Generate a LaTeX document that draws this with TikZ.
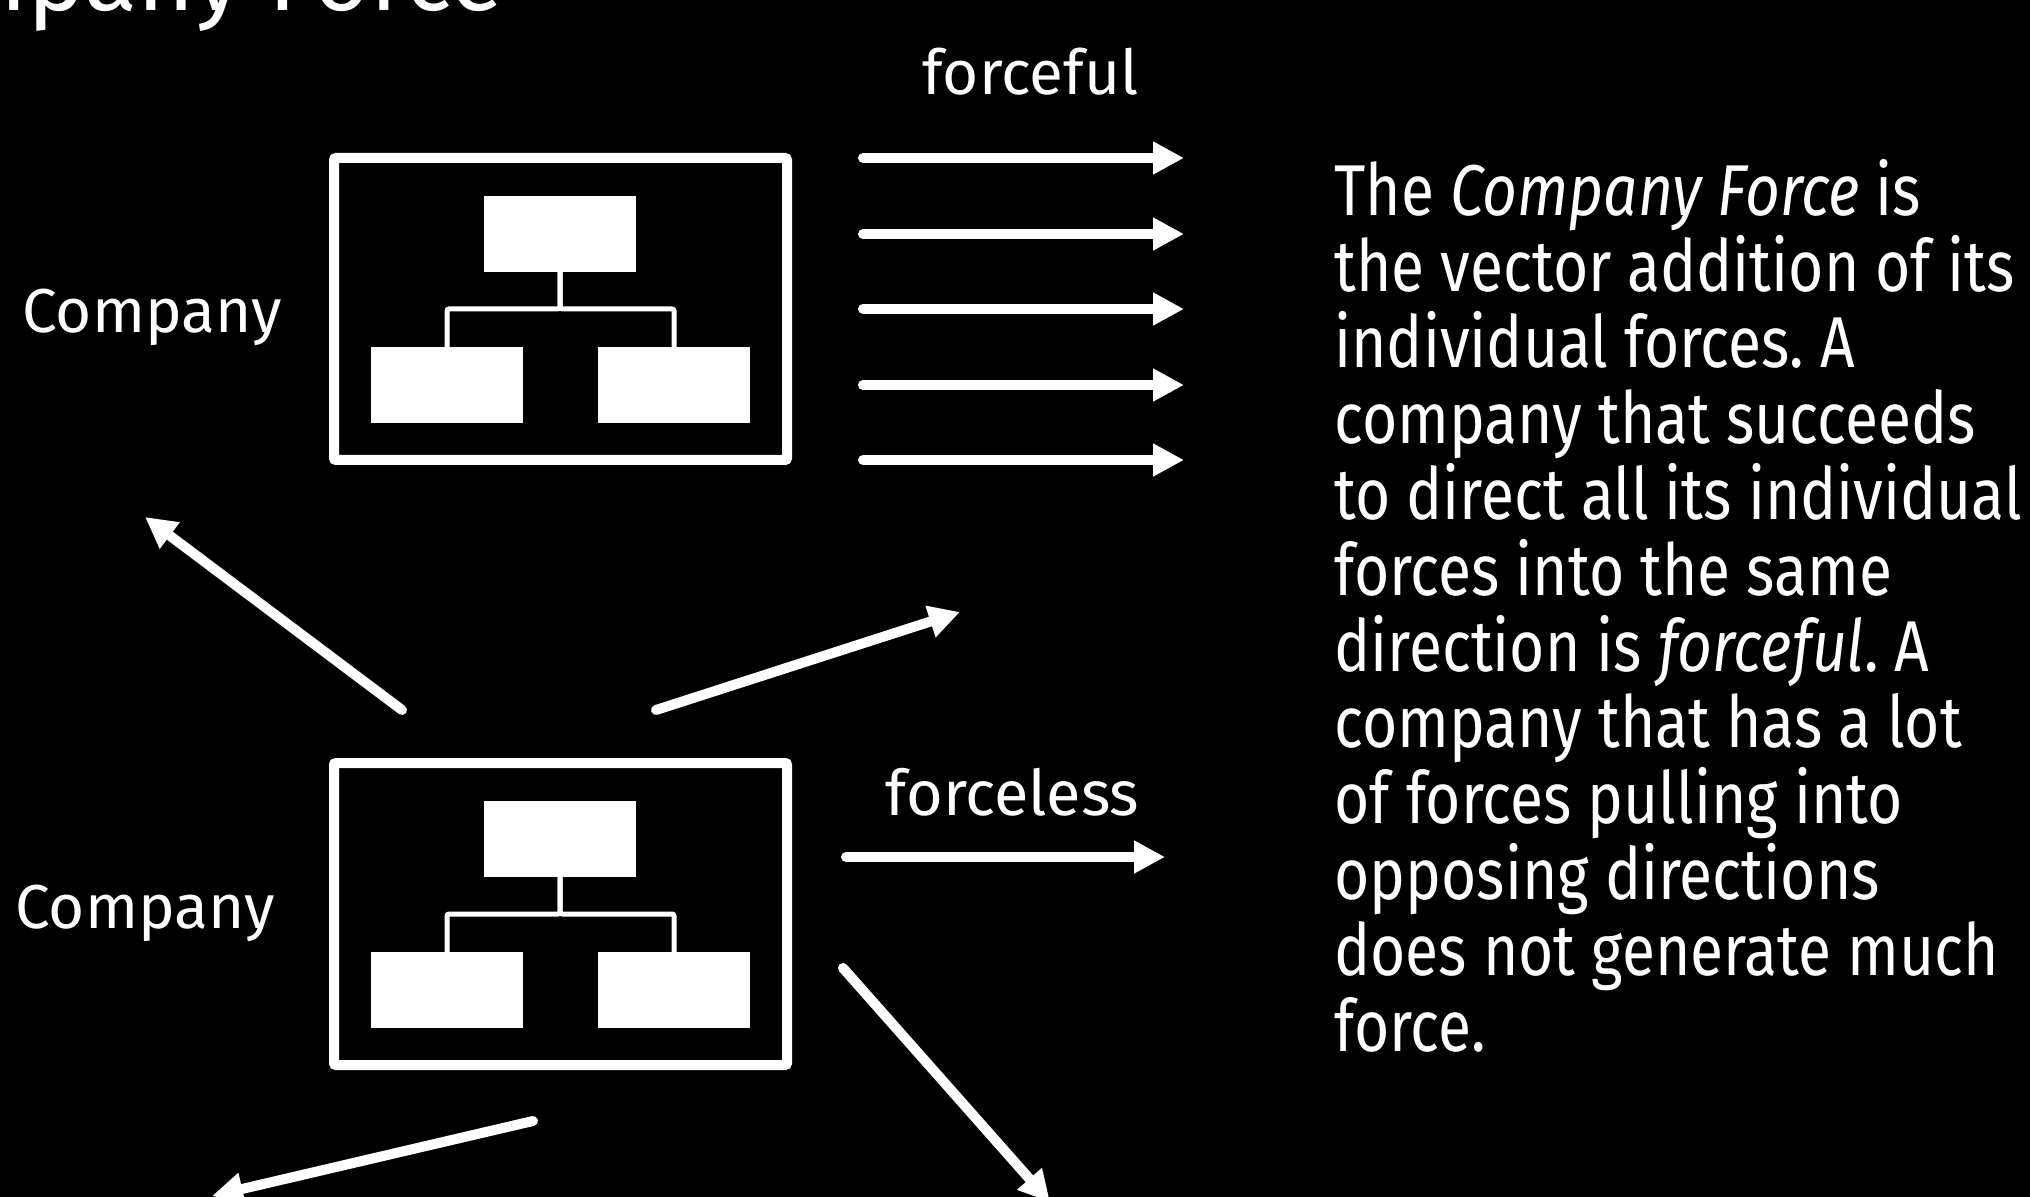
\documentclass[tikz,border=0pt]{standalone}
\usepackage{fontspec}
\setmainfont{Fira Sans}
\newfontfamily\bodyfont[FakeStretch=0.84]{Fira Sans}
\usetikzlibrary{arrows.meta}
\frenchspacing
\begin{document}
\begin{tikzpicture}[x=0.5pt,y=-0.5pt,
  frame/.style={draw=white, line width=5pt, rounded corners=1pt,
    minimum width=226.5pt, minimum height=151pt, inner sep=0pt, outer sep=0pt},
  unit/.style={fill=white, minimum width=76pt, minimum height=38pt,
    inner sep=0pt, outer sep=0pt},
  link/.style={draw=white, line width=2.5pt, rounded corners=1pt},
  force/.style={draw=white, line width=5pt, line cap=round,
    -{Triangle[length=15.5pt,width=15.5pt]}},
  label/.style={text=white, font=\fontsize{31pt}{36pt}\selectfont, inner sep=0pt}]

% canvas
\useasboundingbox (0,0) rectangle (2030,1197);
\fill[black] (0,0) rectangle (2030,1197);

% title, running off the left edge
\node[text=white, font=\fontsize{49pt}{56pt}\selectfont, inner sep=0pt,
  anchor=base east] (title) at (504,11) {Company Force};

% company with aligned forces
\node[frame] (c1) at (560.5,309) {};
\node[unit] (c1top) at (560,234) {};
\node[unit] (c1left) at (447,385) {};
\node[unit] (c1right) at (674,385) {};
\draw[link] (c1top.south) -- ++(0,37) -| (c1left.north);
\draw[link] (c1top.south) -- ++(0,37) -| (c1right.north);
\node[label, anchor=base west] (lab1) at (22,333) {Company};
\node[label, anchor=base] (lab2) at (1030.5,95) {forceful};

\foreach \y [count=\i] in {158,234,309,385,460} {
  \coordinate (fa\i) at (863,\y);
  \coordinate (fb\i) at (1184,\y);
  \draw[force] (fa\i) -- (fb\i);
}

% company with opposing forces
\node[frame] (c2) at (560.5,914) {};
\node[unit] (c2top) at (560,839) {};
\node[unit] (c2left) at (447,990) {};
\node[unit] (c2right) at (674,990) {};
\draw[link] (c2top.south) -- ++(0,37) -| (c2left.north);
\draw[link] (c2top.south) -- ++(0,37) -| (c2right.north);
\node[label, anchor=base west] (lab3) at (15,928) {Company};
\node[label, anchor=base, font=\fontsize{31.5pt}{36pt}\selectfont] (lab4)
  at (1012.5,815) {forceless};

\coordinate (da1) at (402,710);  \coordinate (db1) at (145,517);
\coordinate (da2) at (656,710);  \coordinate (db2) at (960,612);
\coordinate (da3) at (846,857);  \coordinate (db3) at (1165,857);
\coordinate (da4) at (533,1121); \coordinate (db4) at (212,1196);
\coordinate (da5) at (843,968);  \coordinate (db5) at (1050,1202);
\foreach \i in {1,...,5} { \draw[force] (da\i) -- (db\i); }

% explanation
\node[anchor=base west, inner sep=0pt, text=white] (expl) at (1334,216)
  {\parbox[t]{700pt}{\bodyfont\fontsize{36pt}{38pt}\selectfont\raggedright
   The \textit{Company Force} is\\
   the vector addition of its\\
   individual forces. A\\
   company that succeeds\\
   to direct all its individual\\
   forces into the same\\
   direction is \textit{forceful}. A\\
   company that has a lot\\
   of forces pulling into\\
   opposing directions\\
   does not generate much\\
   force.}};
\end{tikzpicture}
\end{document}
